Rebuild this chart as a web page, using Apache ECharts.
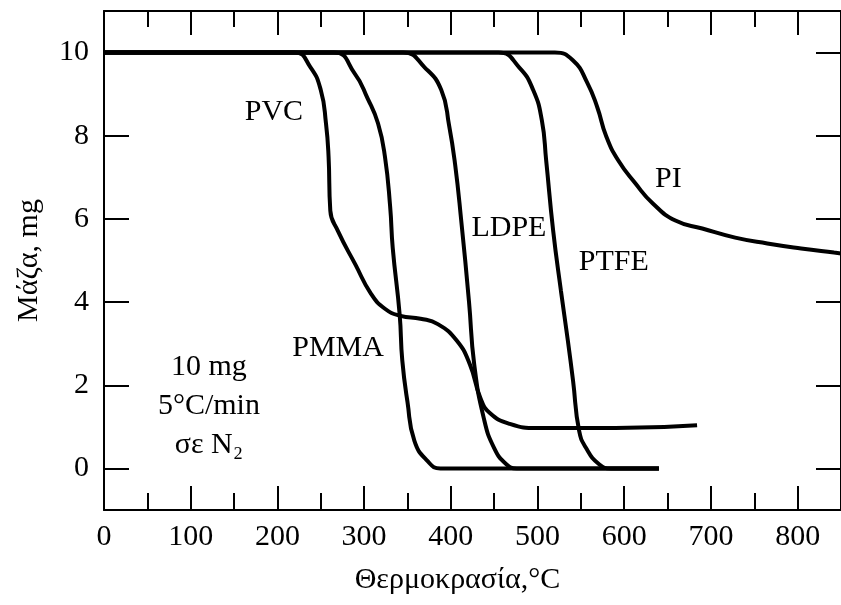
<!DOCTYPE html>
<html lang="el">
<head>
<meta charset="UTF-8">
<title>TGA</title>
<style>
  html, body { margin: 0; padding: 0; background: #fff; }
  #chart { width: 841px; height: 605px; }
</style>
</head>
<body>
<div id="chart"></div>
<script src="https://cdn.jsdelivr.net/npm/echarts@6/dist/echarts.min.js"></script>
<script>
// mass (mg) vs temperature (°C)
var pvc = [[0,10],[220,10],[238,9.65],[250,9.1],[256,8.3],[259,7.5],[261,6.2],[270,5.7],[290,4.9],[308,4.2],[324,3.84],[342,3.67],[365,3.6],[385,3.47],[407,3.07],[422,2.5],[434,1.7],[445,1.33],[468,1.07],[500,0.97],[590,0.97],[684,1.04]];
var pmma = [[0,10],[265,10],[289,9.5],[304,8.9],[316,8.3],[324,7.5],[330,6.3],[333,5.3],[341,3.7],[344,2.6],[350,1.6],[358,0.66],[373,0.18],[388,0],[640,0]];
var ldpe = [[0,10],[345,10],[370,9.64],[389,9.1],[398,8.25],[405,7.3],[412,5.96],[421,4.0],[427,2.5],[438,1.21],[450,0.49],[464,0.1],[476,0],[640,0]];
var ptfe = [[0,10],[455,10],[479,9.64],[495,9.1],[505,8.37],[510,7.4],[518,5.72],[527,4.27],[535,3.07],[541,2.1],[548,0.9],[556,0.49],[571,0.1],[585,0],[640,0]];
var pi = [[0,10],[520,10],[541,9.81],[557,9.29],[569,8.68],[579,8.0],[593,7.41],[613,6.85],[633,6.37],[659,5.96],[690,5.77],[728,5.55],[765,5.41],[804,5.29],[842,5.19],[850,5.17]];

var xMajor = [0,100,200,300,400,500,600,700,800];
var xMinor = [50,150,250,350,450,550,650,750];
var yTicks = [0,2,4,6,8,10];

// curve names and where they sit
var curveLabels = [
  { name: 'PVC', value: [196, 8.58] },
  { name: 'PMMA', value: [270, 2.9] },
  { name: 'LDPE', value: [467, 5.77] },
  { name: 'PTFE', value: [588, 4.97] },
  { name: 'PI', value: [651, 6.95] },
  { name: '10 mg\n5°C/min\nσε N₂', value: [121, 1.5] }
];

var serif = '"Liberation Serif", "DejaVu Serif", serif';
var ink = '#000';

function xAx(pos, ticks, len, showLine, showLabel) {
  return {
    type: 'value', position: pos, min: 0, max: 850,
    axisLine: { show: showLine, onZero: false, lineStyle: { color: ink, width: 2 } },
    axisTick: { show: true, inside: true, length: len, customValues: ticks, lineStyle: { color: ink, width: 2 } },
    axisLabel: { show: showLabel, customValues: xMajor, fontFamily: serif, fontSize: 30, color: ink, margin: 12 },
    splitLine: { show: false }
  };
}

function line(d) {
  return {
    type: 'line', data: d, smooth: 0.5,
    symbol: 'none', silent: true,
    lineStyle: { color: '#000', width: 4 }
  };
}

var chart = echarts.init(document.getElementById('chart'));
chart.setOption({
  backgroundColor: '#fff',
  animation: false,
  grid: { left: 104, top: 11, width: 743, height: 499 },
  xAxis: [
    Object.assign(xAx('bottom', xMajor, 24, true, true), {
      name: 'Θερμοκρασία,°C', nameLocation: 'middle', nameGap: 55,
      nameTextStyle: { fontFamily: serif, fontSize: 30, color: ink, padding: [0, 30, 0, 0] }
    }),
    xAx('bottom', xMinor, 17, false, false),
    xAx('top', xMajor, 24, true, false),
    xAx('top', xMinor, 16, false, false)
  ],
  yAxis: [
    {
      type: 'value', position: 'left', min: -1, max: 11,
      name: 'Μάζα, mg', nameLocation: 'middle', nameGap: 60,
      nameTextStyle: { fontFamily: serif, fontSize: 30, color: ink },
      axisLine: { onZero: false, lineStyle: { color: ink, width: 2 } },
      axisTick: { inside: true, length: 25, customValues: yTicks, lineStyle: { color: ink, width: 2 } },
      axisLabel: { customValues: yTicks, fontFamily: serif, fontSize: 30, color: ink, margin: 15 },
      splitLine: { show: false }
    },
    {
      type: 'value', position: 'right', min: -1, max: 11,
      axisLine: { show: true, onZero: false, lineStyle: { color: ink, width: 2 } },
      axisTick: { inside: true, length: 25, customValues: yTicks, lineStyle: { color: ink, width: 2 } },
      axisLabel: { show: false },
      splitLine: { show: false }
    }
  ],
  series: [
    line(pvc), line(pmma), line(ldpe), line(ptfe), line(pi),
    {
      type: 'scatter', data: curveLabels, symbolSize: 1, silent: true,
      itemStyle: { color: 'transparent', opacity: 1 },
      label: {
        show: true, position: 'inside', formatter: '{b}',
        fontFamily: serif, fontSize: 30, color: ink, lineHeight: 39, align: 'center'
      },
      z: 5
    }
  ]
});
</script>
</body>
</html>
